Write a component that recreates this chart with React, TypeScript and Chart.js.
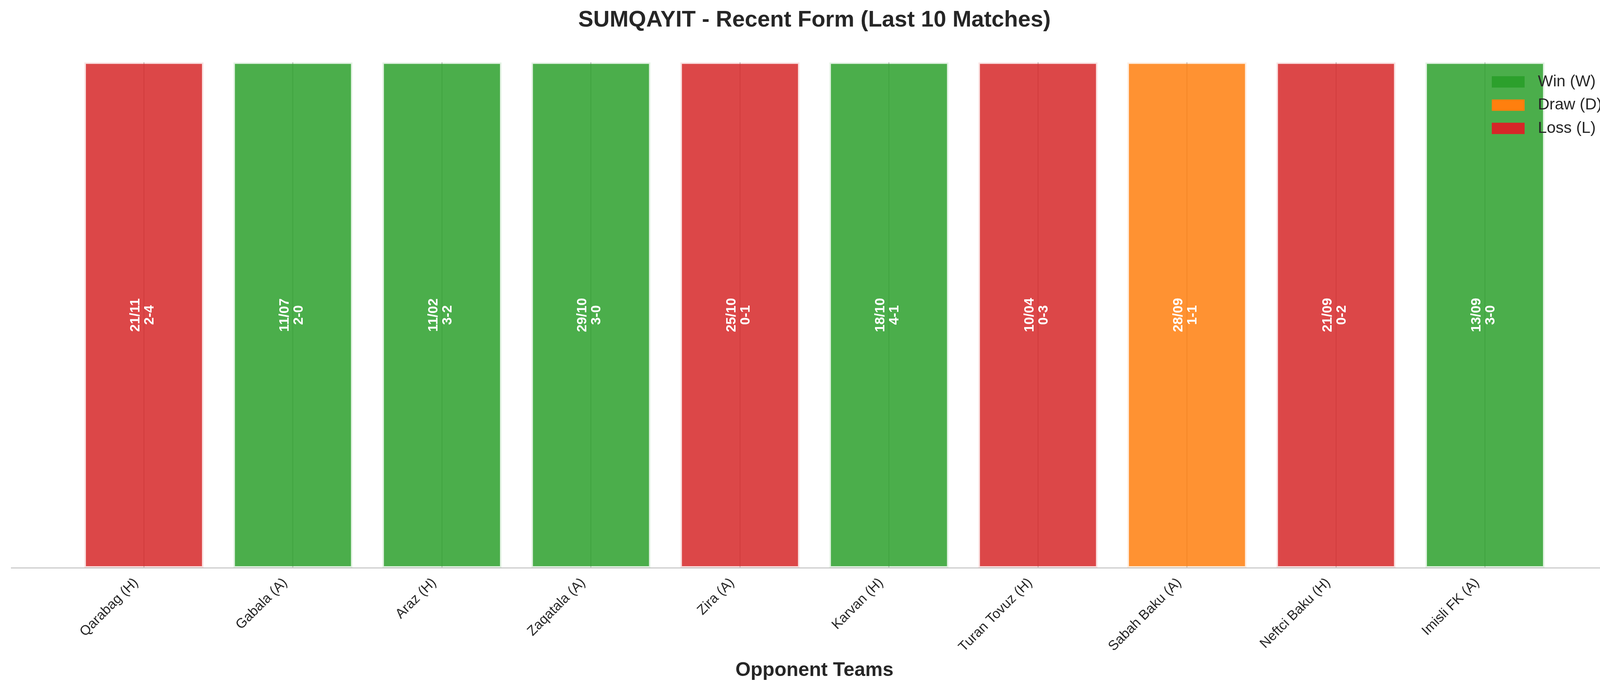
import React, { useEffect, useRef } from 'react';
import { Chart, registerables } from 'chart.js';

Chart.register(...registerables);

const FONT = '"Liberation Sans", Arial, Helvetica, sans-serif';
const TEXT_COLOR = '#262626';

const chartTitle = 'SUMQAYIT - Recent Form (Last 10 Matches)';
const xAxisTitle = 'Opponent Teams';

const opponents = [
  'Qarabag (H)',
  'Gabala (A)',
  'Araz (H)',
  'Zaqatala (A)',
  'Zira (A)',
  'Karvan (H)',
  'Turan Tovuz (H)',
  'Sabah Baku (A)',
  'Neftci Baku (H)',
  'Imisli FK (A)',
];
const results = ['L', 'W', 'W', 'W', 'L', 'W', 'L', 'D', 'L', 'W'];
const matchDates = ['21/11', '11/07', '11/02', '29/10', '25/10', '18/10', '10/04', '28/09', '21/09', '13/09'];
const scores = ['2-4', '2-0', '3-2', '3-0', '0-1', '4-1', '0-3', '1-1', '0-2', '3-0'];
const barValues = [1, 1, 1, 1, 1, 1, 1, 1, 1, 1];

const legendKeys = ['W', 'D', 'L'];
const legendLabels = ['Win (W)', 'Draw (D)', 'Loss (L)'];
const resultColors: Record<string, string> = { W: '#2ca02c', D: '#ff7f0e', L: '#d62728' };

const xMin = -0.89;
const xMax = 9.89;

function rgba(hex: string, a: number) {
  const n = parseInt(hex.slice(1), 16);
  return `rgba(${(n >> 16) & 255},${(n >> 8) & 255},${n & 255},${a})`;
}

const barLabelPlugin = {
  id: 'barLabels',
  afterDatasetsDraw(chart: any) {
    const meta = chart.getDatasetMeta(0);
    const ctx = chart.ctx;
    ctx.save();
    ctx.fillStyle = '#ffffff';
    ctx.font = `bold 35px ${FONT}`;
    ctx.textAlign = 'center';
    ctx.textBaseline = 'middle';
    meta.data.forEach((bar: any, i: number) => {
      const { x, y, base } = bar.getProps(['x', 'y', 'base'], true);
      const cy = (y + base) / 2;
      ctx.save();
      ctx.translate(x, cy);
      ctx.rotate(-Math.PI / 2);
      ctx.fillText(matchDates[i], 0, -21);
      ctx.fillText(scores[i], 0, 15);
      ctx.restore();
    });
    ctx.restore();
  },
};

const legendPlugin = {
  id: 'resultLegend',
  afterDraw(chart: any) {
    const { right, top } = chart.chartArea;
    const ctx = chart.ctx;
    ctx.save();
    ctx.font = `41px ${FONT}`;
    ctx.textAlign = 'left';
    ctx.textBaseline = 'middle';
    legendKeys.forEach((k, i) => {
      const cy = top + 50 + i * 59.5;
      ctx.fillStyle = resultColors[k];
      ctx.fillRect(right - 322, cy - 14.5, 84, 29);
      ctx.fillStyle = TEXT_COLOR;
      ctx.fillText(legendLabels[i], right - 204, cy);
    });
    ctx.restore();
  },
};

export default function App() {
  const ref = useRef<HTMLCanvasElement>(null);

  useEffect(() => {
    const canvas = ref.current;
    if (!canvas) return;
    const chart = new Chart(canvas, {
      type: 'bar',
      data: {
        datasets: [
          {
            label: 'Result',
            data: barValues.map((v, i) => ({ x: i, y: v })),
            backgroundColor: results.map((r) => rgba(resultColors[r], 0.85)),
            borderColor: results.map((r) => rgba(resultColors[r], 0.13)),
            borderWidth: 4,
            borderSkipped: false,
            barPercentage: 0.8,
            categoryPercentage: 1.0,
          },
        ],
      },
      options: {
        responsive: false,
        animation: false,
        devicePixelRatio: 1,
        events: [],
        layout: { padding: { left: 29, right: 29, top: 0, bottom: 0 } },
        plugins: {
          legend: { display: false },
          tooltip: { enabled: false },
          title: {
            display: true,
            text: chartTitle,
            color: TEXT_COLOR,
            font: { family: FONT, size: 58, weight: 'bold' },
            padding: { top: 17, bottom: 73 },
          },
        },
        scales: {
          x: {
            type: 'linear',
            min: xMin,
            max: xMax,
            bounds: 'data',
            offset: false,
            afterBuildTicks: (axis: any) => {
              axis.ticks = opponents.map((_, i) => ({ value: i }));
            },
            afterFit: (axis: any) => {
              axis.height = 318;
            },
            ticks: {
              autoSkip: false,
              maxRotation: 45,
              minRotation: 45,
              padding: 18,
              labelOffset: -20,
              color: TEXT_COLOR,
              font: { family: FONT, size: 35 },
              callback: (_v: any, index: number) => opponents[index] ?? '',
            },
            grid: { display: true, offset: false, drawTicks: false, color: '#cbcbcb', lineWidth: 3 },
            border: { display: true, color: '#cccccc', width: 3 },
            title: {
              display: true,
              text: xAxisTitle,
              color: TEXT_COLOR,
              font: { family: FONT, size: 50, weight: 'bold' },
              padding: { top: 0, bottom: 25 },
            },
          },
          y: { display: false, min: 0, max: 1 },
        },
      } as any,
      plugins: [barLabelPlugin, legendPlugin],
    });
    return () => chart.destroy();
  }, []);

  return (
    <div style={{ position: 'absolute', left: 0, top: 0, width: 4170, height: 1771, background: '#ffffff' }}>
      <canvas ref={ref} width={4170} height={1771} style={{ width: 4170, height: 1771, display: 'block' }} />
    </div>
  );
}
